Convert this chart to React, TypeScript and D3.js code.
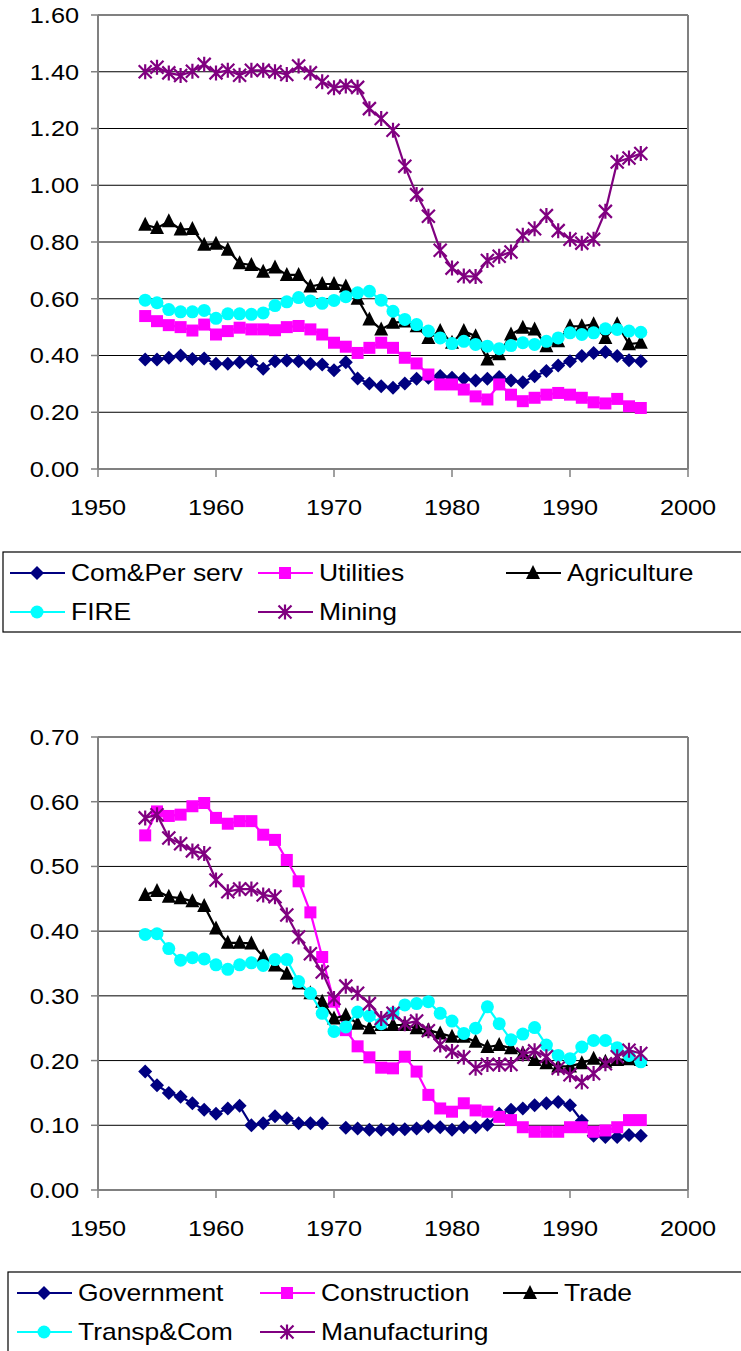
import React from "react";
import * as d3 from "d3";

const years = [1954,1955,1956,1957,1958,1959,1960,1961,1962,1963,1964,1965,1966,1967,1968,1969,1970,1971,1972,1973,1974,1975,1976,1977,1978,1979,1980,1981,1982,1983,1984,1985,1986,1987,1988,1989,1990,1991,1992,1993,1994,1995,1996];

const comPerServ = [0.386,0.386,0.392,0.40,0.388,0.389,0.371,0.371,0.376,0.38,0.353,0.38,0.382,0.38,0.371,0.368,0.348,0.376,0.319,0.301,0.292,0.286,0.301,0.318,0.322,0.328,0.322,0.318,0.312,0.318,0.324,0.312,0.306,0.327,0.345,0.365,0.38,0.398,0.409,0.412,0.398,0.383,0.38];
const utilities = [0.539,0.521,0.507,0.50,0.488,0.509,0.474,0.486,0.498,0.492,0.492,0.489,0.50,0.504,0.492,0.474,0.445,0.431,0.409,0.427,0.445,0.427,0.392,0.372,0.333,0.298,0.298,0.28,0.256,0.245,0.298,0.262,0.239,0.251,0.262,0.268,0.262,0.251,0.235,0.231,0.247,0.221,0.215];
const agriculture = [0.861,0.849,0.873,0.844,0.846,0.79,0.794,0.773,0.725,0.719,0.695,0.71,0.684,0.684,0.643,0.652,0.652,0.643,0.60,0.527,0.492,0.515,0.52,0.503,0.462,0.486,0.445,0.486,0.468,0.386,0.404,0.474,0.498,0.492,0.433,0.45,0.503,0.503,0.51,0.462,0.51,0.44,0.445];
const fire = [0.595,0.586,0.562,0.554,0.554,0.559,0.531,0.547,0.547,0.545,0.55,0.576,0.589,0.604,0.592,0.584,0.594,0.607,0.621,0.626,0.595,0.556,0.527,0.509,0.486,0.462,0.442,0.45,0.439,0.433,0.424,0.435,0.445,0.439,0.45,0.462,0.48,0.474,0.48,0.494,0.492,0.486,0.482];
const mining = [1.40,1.416,1.396,1.387,1.402,1.426,1.396,1.405,1.388,1.405,1.405,1.40,1.39,1.42,1.396,1.365,1.344,1.35,1.345,1.27,1.235,1.194,1.067,0.967,0.891,0.771,0.708,0.68,0.678,0.735,0.75,0.765,0.824,0.847,0.893,0.84,0.81,0.796,0.81,0.908,1.082,1.096,1.112];

const government = [0.183,0.162,0.15,0.144,0.134,0.124,0.118,0.126,0.13,0.10,0.103,0.114,0.111,0.103,0.103,0.103,null,0.096,0.095,0.093,0.093,0.094,0.094,0.095,0.098,0.097,0.093,0.097,0.097,0.101,0.118,0.124,0.126,0.131,0.134,0.136,0.131,0.107,0.084,0.082,0.082,0.085,0.084];
const construction = [0.548,0.585,0.578,0.58,0.593,0.598,0.575,0.566,0.57,0.57,0.549,0.541,0.51,0.477,0.429,0.36,0.291,0.247,0.222,0.205,0.189,0.188,0.206,0.183,0.147,0.126,0.121,0.134,0.123,0.121,0.113,0.108,0.097,0.09,0.09,0.09,0.097,0.097,0.09,0.092,0.097,0.108,0.108];
const trade = [0.456,0.462,0.453,0.451,0.446,0.439,0.404,0.382,0.382,0.381,0.361,0.347,0.334,0.319,0.304,0.291,0.265,0.27,0.257,0.25,0.255,0.255,0.255,0.25,0.247,0.242,0.237,0.237,0.229,0.221,0.224,0.219,0.211,0.201,0.196,0.191,0.191,0.196,0.203,0.198,0.201,0.202,0.201];
const transpCom = [0.395,0.396,0.373,0.355,0.359,0.357,0.348,0.341,0.348,0.351,0.347,0.356,0.356,0.322,0.304,0.273,0.245,0.252,0.275,0.269,0.257,0.273,0.286,0.288,0.291,0.273,0.261,0.242,0.25,0.283,0.257,0.232,0.241,0.251,0.224,0.208,0.203,0.221,0.231,0.231,0.22,0.208,0.198];
const manufacturing = [0.575,0.58,0.544,0.535,0.524,0.52,0.479,0.461,0.465,0.465,0.456,0.453,0.425,0.391,0.365,0.337,0.296,0.315,0.304,0.288,0.265,0.273,0.257,0.261,0.246,0.224,0.214,0.205,0.188,0.194,0.194,0.194,0.21,0.215,0.206,0.188,0.178,0.167,0.18,0.195,0.206,0.216,0.211];

const xTicks = [1950,1960,1970,1980,1990,2000];
const topYTicks = [0,0.2,0.4,0.6,0.8,1.0,1.2,1.4,1.6];
const botYTicks = [0,0.1,0.2,0.3,0.4,0.5,0.6,0.7];

type Marker = "diamond" | "square" | "triangle" | "circle" | "star";
interface Series { name: string; values: (number|null)[]; color: string; marker: Marker; }

const topSeries: Series[] = [
  { name: "Com&Per serv", values: comPerServ, color: "#000080", marker: "diamond" },
  { name: "Utilities", values: utilities, color: "#FF00FF", marker: "square" },
  { name: "Agriculture", values: agriculture, color: "#000000", marker: "triangle" },
  { name: "FIRE", values: fire, color: "#00FFFF", marker: "circle" },
  { name: "Mining", values: mining, color: "#800080", marker: "star" },
];
const botSeries: Series[] = [
  { name: "Government", values: government, color: "#000080", marker: "diamond" },
  { name: "Construction", values: construction, color: "#FF00FF", marker: "square" },
  { name: "Trade", values: trade, color: "#000000", marker: "triangle" },
  { name: "Transp&Com", values: transpCom, color: "#00FFFF", marker: "circle" },
  { name: "Manufacturing", values: manufacturing, color: "#800080", marker: "star" },
];

const FONT = "'Liberation Sans', Arial, sans-serif";
const SX = 1.15;

function SText({ x, y, anchor, size, children }: { x: number; y: number; anchor: "start" | "middle" | "end"; size: number; children: React.ReactNode }) {
  return (
    <text transform={`translate(${x},${y}) scale(${SX},1)`} dy="0.36em" textAnchor={anchor}
      fontFamily={FONT} fontSize={size} fill="#000">{children}</text>
  );
}

function MarkerShape({ type, x, y, color }: { type: Marker; x: number; y: number; color: string }) {
  switch (type) {
    case "diamond": {
      const s = 7;
      return <path d={`M${x},${y - s}L${x + s},${y}L${x},${y + s}L${x - s},${y}Z`} fill={color} />;
    }
    case "square": {
      const s = 6;
      return <rect x={x - s} y={y - s} width={2 * s} height={2 * s} fill={color} />;
    }
    case "triangle": {
      const s = 7;
      return <path d={`M${x},${y - s - 1}L${x + s},${y + s - 1}L${x - s},${y + s - 1}Z`} fill={color} />;
    }
    case "circle":
      return <circle cx={x} cy={y} r={6.5} fill={color} />;
    case "star": {
      const s = 6.5;
      return (
        <path d={`M${x},${y - s - 1}L${x},${y + s + 1}M${x - s},${y - s}L${x + s},${y + s}M${x - s},${y + s}L${x + s},${y - s}`}
          stroke={color} strokeWidth={2.2} fill="none" />
      );
    }
  }
  return null;
}

interface ChartProps {
  series: Series[];
  yMax: number;
  yTicks: number[];
  top: number;
  bottom: number;
}

function Chart({ series, yMax, yTicks, top, bottom }: ChartProps) {
  const left = 98, right = 688;
  const x = d3.scaleLinear().domain([1950, 2000]).range([left, right]);
  const y = d3.scaleLinear().domain([0, yMax]).range([bottom, top]);
  const line = d3.line<[number, number | null]>()
    .defined(d => d[1] !== null)
    .x(d => x(d[0]))
    .y(d => y(d[1] as number));
  return (
    <g>
      {yTicks.filter(t => t > 0 && t < yMax - 1e-9).map(t => (
        <line key={t} x1={left} x2={right} y1={y(t)} y2={y(t)} stroke="#000" strokeWidth={1} />
      ))}
      <line x1={left} x2={right} y1={top} y2={top} stroke="#808080" strokeWidth={2} />
      <line x1={right} x2={right} y1={top} y2={bottom} stroke="#808080" strokeWidth={2} />
      <line x1={left} x2={left} y1={top} y2={bottom} stroke="#808080" strokeWidth={2} />
      <line x1={left} x2={right} y1={bottom} y2={bottom} stroke="#808080" strokeWidth={2} />
      {yTicks.map(t => (
        <g key={t}>
          <line x1={left - 7} x2={left} y1={y(t)} y2={y(t)} stroke="#808080" strokeWidth={1.5} />
          <SText x={left - 19} y={y(t)} anchor="end" size={22}>{d3.format(".2f")(t)}</SText>
        </g>
      ))}
      {xTicks.map(t => (
        <g key={t}>
          <line x1={x(t)} x2={x(t)} y1={bottom} y2={bottom + 8} stroke="#808080" strokeWidth={1.5} />
          <SText x={x(t)} y={bottom + 38} anchor="middle" size={22}>{t}</SText>
        </g>
      ))}
      {series.map(s => {
        const pts: [number, number | null][] = years.map((yr, i) => [yr, s.values[i]]);
        return (
          <g key={s.name}>
            <path d={line(pts) || ""} fill="none" stroke={s.color} strokeWidth={2.2} />
            {pts.filter(p => p[1] !== null).map(p => (
              <MarkerShape key={p[0]} type={s.marker} x={x(p[0])} y={y(p[1] as number)} color={s.color} />
            ))}
          </g>
        );
      })}
    </g>
  );
}

function Legend({ series, x0, y0, h, cols, rowY }: { series: Series[]; x0: number; y0: number; h: number; cols: number[]; rowY: number[] }) {
  return (
    <g>
      <rect x={x0} y={y0} width={800} height={h} fill="#fff" stroke="#000" strokeWidth={1.2} />
      {series.map((s, i) => {
        const cx = cols[i % 3];
        const cy = rowY[Math.floor(i / 3)];
        return (
          <g key={s.name}>
            <line x1={cx} x2={cx + 55} y1={cy} y2={cy} stroke={s.color} strokeWidth={2.2} />
            <MarkerShape type={s.marker} x={cx + 27} y={cy} color={s.color} />
            <SText x={cx + 61} y={cy} anchor="start" size={23}>{s.name}</SText>
          </g>
        );
      })}
    </g>
  );
}

export default function App() {
  return (
    <svg width={741} height={1351} style={{ position: "absolute", left: 0, top: 0, background: "#fff" }}>
      <rect x={0} y={0} width={741} height={1351} fill="#fff" />
      <Chart series={topSeries} yMax={1.6} yTicks={topYTicks} top={15} bottom={469} />
      <Legend series={topSeries} x0={3} y0={552} h={80} cols={[10, 258, 506]} rowY={[573, 612]} />
      <Chart series={botSeries} yMax={0.7} yTicks={botYTicks} top={737} bottom={1190} />
      <Legend series={botSeries} x0={8} y0={1272} h={120} cols={[17, 260, 503]} rowY={[1293, 1332]} />
    </svg>
  );
}
